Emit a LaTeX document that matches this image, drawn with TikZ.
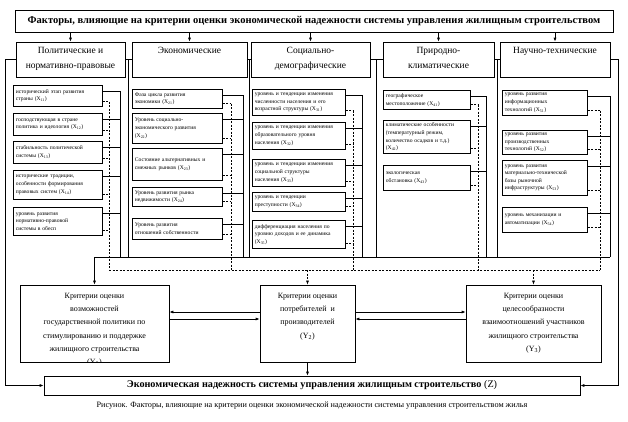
\documentclass[tikz,border=0pt]{standalone}
\usepackage{fontspec}
\setmainfont{Liberation Serif}
\usetikzlibrary{arrows.meta}
\begin{document}
\begin{tikzpicture}[x=1pt,y=-1pt,line width=0.7pt,
  cat/.style={draw,inner sep=0pt,minimum height=35pt},
  cattext/.style={anchor=north,align=center,inner sep=0pt,font=\fontsize{9.5}{15}\selectfont},
  sbox/.style={draw,anchor=north west,align=left,inner sep=2.5pt,font=\fontsize{5.6}{7.6}\selectfont},
  ybox/.style={draw,inner sep=0pt,minimum height=77pt},
  ytext/.style={anchor=north,align=center,inner sep=0pt,font=\fontsize{8}{13.3}\selectfont},
  arr/.style={-{Latex[length=4pt,width=3pt]}},
  dsh/.style={dash pattern=on 2pt off 1.5pt,line width=0.6pt}]
\useasboundingbox (0,0) rectangle (628,421);

% title
\node[draw,minimum width=598pt,minimum height=22pt,inner sep=0pt,font=\bfseries\fontsize{10.5}{12}\selectfont] (title) at (314,21)
 {Факторы, влияющие на критерии оценки экономической надежности системы управления жилищным строительством};

% categories
\node[cat,minimum width=109pt] (c1) at (70.5,59.5) {};
\node[cat,minimum width=115pt] (c2) at (189.5,59.5) {};
\node[cat,minimum width=119pt] (c3) at (310.5,59.5) {};
\node[cat,minimum width=111pt] (c4) at (438.5,59.5) {};
\node[cat,minimum width=110pt] (c5) at (555,59.5) {};
\node[cattext] (t1) at ([yshift=-5.5pt]c1.north) {Политические и\\нормативно-правовые};
\node[cattext] (t2) at ([yshift=-5.5pt]c2.north) {Экономические};
\node[cattext] (t3) at ([yshift=-5.5pt]c3.north) {Социально-\\демографические};
\node[cattext] (t4) at ([yshift=-5.5pt]c4.north) {Природно-\\климатические};
\node[cattext] (t5) at ([yshift=-5.5pt]c5.north) {Научно-технические};
\foreach \c in {c1,c2,c3,c4,c5}{\draw[arr] (title.south -| \c.north) -- (\c.north);}

% sub-factor boxes
\node[sbox,text width=84pt,minimum width=89pt,minimum height=21pt] (s11) at (13,85) {исторический этап развития\\страны (X\textsubscript{11})};
\node[sbox,text width=84pt,minimum width=89pt,minimum height=22pt] (s12) at (13,113) {господствующая в стране\\политика и идеология (X\textsubscript{12})};
\node[sbox,text width=84pt,minimum width=89pt,minimum height=22pt] (s13) at (13,141) {стабильность политической\\системы (X\textsubscript{13})};
\node[sbox,text width=84pt,minimum width=89pt,minimum height=29pt] (s14) at (13,170) {исторические традиции,\\особенности формирования\\правовых систем (X\textsubscript{14})};
\node[sbox,text width=84pt,minimum width=89pt,minimum height=28pt] (s15) at (13,207) {уровень развития\\нормативно-правовой\\системы в обесп};

\node[sbox,text width=85pt,minimum width=90pt,minimum height=19pt] (s21) at (132,89) {Фаза цикла развития\\экономики (X\textsubscript{21})};
\node[sbox,text width=85pt,minimum width=90pt,minimum height=30pt] (s22) at (132,113) {Уровень социально-\\экономического развития\\(X\textsubscript{22})};
\node[sbox,text width=85pt,minimum width=90pt,minimum height=32pt] (s23) at (132,148) {Состояние альтернативных и\\смежных рынков (X\textsubscript{23})};
\node[sbox,text width=85pt,minimum width=90pt,minimum height=19pt] (s24) at (132,187) {Уровень развития рынка\\недвижимости (X\textsubscript{24})};
\node[sbox,text width=85pt,minimum width=90pt,minimum height=21pt] (s25) at (132,218) {Уровень развития\\отношений собственности};

\node[sbox,text width=88pt,minimum width=93pt,minimum height=26pt] (s31) at (252,89) {уровень и тенденции изменения\\численности населения и его\\возрастной структуры (X\textsubscript{31})};
\node[sbox,text width=88pt,minimum width=93pt,minimum height=27pt] (s32) at (252,122) {уровень и тенденции изменения\\образовательного уровня\\населения (X\textsubscript{32})};
\node[sbox,text width=88pt,minimum width=93pt,minimum height=27pt] (s33) at (252,159) {уровень и тенденции изменения\\социальной структуры\\населения (X\textsubscript{33})};
\node[sbox,text width=88pt,minimum width=93pt,minimum height=19pt] (s34) at (252,192) {уровень и тенденции\\преступности (X\textsubscript{34})};
\node[sbox,text width=88pt,minimum width=93pt,minimum height=28pt] (s35) at (252,220) {дифференциация населения по\\уровню доходов и ее динамика\\(X\textsubscript{35})};

\node[sbox,text width=82pt,minimum width=87pt,minimum height=19pt] (s41) at (383,90) {географическое\\местоположение (X\textsubscript{41})};
\node[sbox,text width=82pt,minimum width=87pt,minimum height=33pt] (s42) at (383,120) {климатические особенности\\(температурный режим,\\количество осадков и т.д.)\\(X\textsubscript{42})};
\node[sbox,text width=82pt,minimum width=87pt,minimum height=25pt] (s43) at (383,165) {экологическая\\обстановка (X\textsubscript{43})};

\node[sbox,text width=80pt,minimum width=85pt,minimum height=25pt] (s51) at (502,90) {уровень развития\\информационных\\технологий (X\textsubscript{51})};
\node[sbox,text width=80pt,minimum width=85pt,minimum height=23pt] (s52) at (502,130) {уровень развития\\производственных\\технологий (X\textsubscript{52})};
\node[sbox,text width=80pt,minimum width=85pt,minimum height=35pt] (s53) at (502,160) {уровень развития\\материально-технической\\базы рыночной\\инфраструктуры (X\textsubscript{53})};
\node[sbox,text width=80pt,minimum width=85pt,minimum height=25pt] (s54) at (502,207) {уровень механизации и\\автоматизации (X\textsubscript{54})};

% bus coordinates
\coordinate (S1) at (120,257); \coordinate (D1) at (109,270);
\coordinate (S2) at (243,257); \coordinate (D2) at (231,270);
\coordinate (S3) at (362,257); \coordinate (D3) at (353,270);
\coordinate (S4) at (486,257); \coordinate (D4) at (478,270);
\coordinate (S5) at (610,257); \coordinate (D5) at (600,270);
\coordinate (G1) at (128.5,257); \coordinate (G2) at (249,257);
\coordinate (G3) at (376.5,257); \coordinate (G4) at (497,257);

% stubs
\foreach \s/\b/\d in {s11/S1/D1,s12/S1/D1,s13/S1/D1,s14/S1/D1,s15/S1/D1,
  s21/S2/D2,s22/S2/D2,s23/S2/D2,s24/S2/D2,s25/S2/D2,
  s31/S3/D3,s32/S3/D3,s33/S3/D3,s34/S3/D3,s35/S3/D3,
  s41/S4/D4,s42/S4/D4,s43/S4/D4,
  s51/S5/D5,s52/S5/D5,s53/S5/D5,s54/S5/D5}{
  \draw ([yshift=-6pt]\s.north east) -- ([yshift=-6pt]\s.north east -| \b);
  \draw[dsh] ([yshift=5pt]\s.south east) -- ([yshift=5pt]\s.south east -| \d);
}
% vertical buses
\draw ([yshift=-6pt]s11.north east -| S1) -- (S1);
\draw ([yshift=-6pt]s21.north east -| S2) -- (S2);
\draw ([yshift=-6pt]s31.north east -| S3) -- (S3);
\draw ([yshift=-6pt]s41.north east -| S4) -- (S4);
\draw ([yshift=-6pt]s51.north east -| S5) -- (S5);
\draw[dsh] ([yshift=5pt]s11.south east -| D1) -- (D1);
\draw[dsh] ([yshift=5pt]s21.south east -| D2) -- (D2);
\draw[dsh] ([yshift=5pt]s31.south east -| D3) -- (D3);
\draw[dsh] ([yshift=5pt]s41.south east -| D4) -- (D4);
\draw[dsh] ([yshift=5pt]s51.south east -| D5) -- (D5);

% category interconnection
\draw (c1.east) -- (c2.west);
\draw (c2.east) -- (c3.west);
\draw (c3.east) -- (c4.west);
\draw (c4.east) -- (c5.west);
\draw (c1.east -| G1) -- (G1);
\draw (c2.east -| G2) -- (G2);
\draw (c3.east -| G3) -- (G3);
\draw (c4.east -| G4) -- (G4);

% Y boxes
\node[ybox,minimum width=149pt] (y1) at (94.5,323.5) {};
\node[ybox,minimum width=95pt] (y2) at (307.5,323.5) {};
\node[ybox,minimum width=135pt] (y3) at (533.5,323.5) {};
\begin{scope}
\clip (y1.north west) rectangle (y1.south east);
\node[ytext] (yt1) at ([yshift=-8pt]y1.north) {Критерии оценки\\возможностей\\государственной политики по\\стимулированию и поддержке\\жилищного строительства\\(Y\textsubscript{1})};
\end{scope}
\node[ytext] (yt2) at ([yshift=-8pt]y2.north) {Критерии оценки\\потребителей\ \ и\\производителей\\(Y\textsubscript{2})};
\node[ytext] (yt3) at ([yshift=-8pt]y3.north) {Критерии оценки\\целесообразности\\взаимоотношений участников\\жилищного строительства\\(Y\textsubscript{3})};

% Z box
\node[draw,minimum width=536pt,minimum height=19pt,inner sep=0pt,font=\fontsize{10.2}{11}\selectfont] (z) at (312,385.5)
 {\textbf{Экономическая надежность системы управления жилищным строительство} (Z)};

% horizontal buses
\draw (y1.north |- S1) -- (S5);
\draw[dsh] (D1) -- (D5);
\draw[arr] (y1.north |- S1) -- (y1.north);
\draw[dsh,arr] (y2.north |- D1) -- (y2.north);
\draw[dsh,arr] (y3.north |- D1) -- (y3.north);

% Y links
\coordinate (ha) at (0,312); \coordinate (hb) at (0,319);
\draw[arr] (y2.west |- ha) -- (y1.east |- ha);
\draw[arr] (y1.east |- hb) -- (y2.west |- hb);
\draw[arr] (y2.east |- ha) -- (y3.west |- ha);
\draw[arr] (y3.west |- hb) -- (y2.east |- hb);
\draw[arr] (y2.south) -- (z.north -| y2.south);

% outer lines to Z
\draw[arr] (c1.west) -- ++(-10,0) |- (z.west);
\draw[arr] (c5.east) -- ++(8,0) |- (z.east);

% caption
\node[font=\fontsize{8.2}{10}\selectfont,inner sep=0pt] (cap) at (312,406)
 {Рисунок. Факторы, влияющие на критерии оценки экономической надежности системы управления строительством жилья};
\end{tikzpicture}
\end{document}
